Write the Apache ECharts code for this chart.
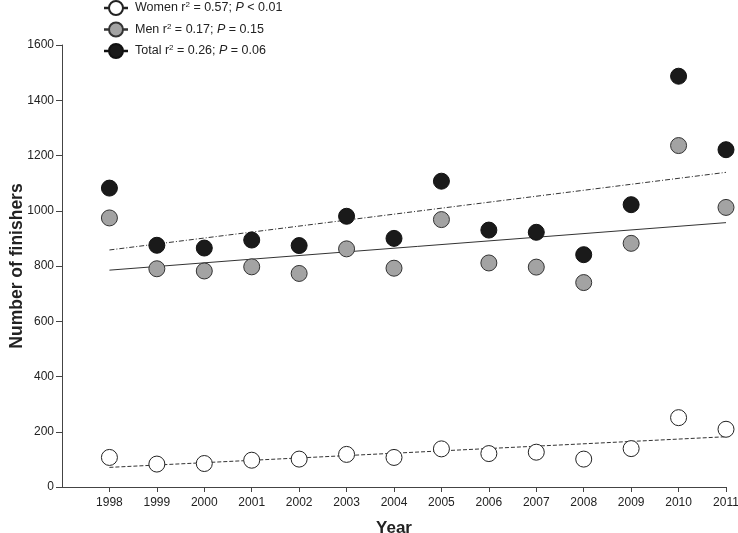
<!DOCTYPE html>
<html>
<head>
<meta charset="utf-8">
<script src="https://cdn.jsdelivr.net/npm/echarts@6/dist/echarts.min.js"></script>
<style>html,body{margin:0;padding:0;background:#fff}#c{width:738px;height:533px}</style>
</head>
<body>
<div id="c"></div>
<script>
const years = [1998,1999,2000,2001,2002,2003,2004,2005,2006,2007,2008,2009,2010,2011];
const women = [107,83,85,97,101,118,107,138,121,126,101,139,251,209];
const men   = [974,790,782,797,773,862,792,968,811,796,740,882,1236,1012];
const total = [1082,875,865,894,874,980,900,1107,930,922,841,1022,1487,1221];
const trendYears = [1998, 2011];
const womenTrend = [71, 182];
const menTrend   = [785, 957];
const totalTrend = [858, 1139];
const yTicks = [0,200,400,600,800,1000,1200,1400,1600];
const legendLabels = {
  'Women': 'Women r{sup|2} = 0.57; {i|P} < 0.01',
  'Men': 'Men r{sup|2} = 0.17; {i|P} = 0.15',
  'Total': 'Total r{sup|2} = 0.26; {i|P} = 0.06'
};

const pairs = (xs, ys) => xs.map((x, i) => [x, ys[i]]);
const FONT = 'Liberation Sans, Arial, sans-serif';
const legendIcon = 'path://M0,6.8H4V7.2H0Z M11,0A7,7 0 1 1 10.99,0Z M18,6.8H22V7.2H18Z';

const chart = echarts.init(document.getElementById('c'), null, {renderer: 'canvas'});
chart.setOption({
  animation: false,
  backgroundColor: '#fff',
  textStyle: {fontFamily: FONT},
  grid: {left: 62, right: 12, top: 45, bottom: 46, outerBoundsMode: 'none', containLabel: false},
  legend: {
    orient: 'vertical',
    left: 99,
    top: -5,
    itemWidth: 22,
    itemHeight: 15,
    itemGap: 5.5,
    data: [
      {name: 'Women', icon: legendIcon},
      {name: 'Men', icon: legendIcon},
      {name: 'Total', icon: legendIcon}
    ],
    formatter: n => legendLabels[n],
    textStyle: {
      fontFamily: FONT, fontSize: 12.5, color: '#222', padding: [0, 0, 0, 3], lineHeight: 14,
      rich: {
        sup: {fontSize: 8, verticalAlign: 'top', lineHeight: 14, padding: [0,0,5,0], fontFamily: FONT, color: '#222'},
        i: {fontStyle: 'italic', fontSize: 12.5, lineHeight: 14, fontFamily: FONT, color: '#222'}
      }
    }
  },
  xAxis: {
    type: 'value', min: 1997, max: 2011, interval: 1,
    name: 'Year', nameLocation: 'middle', nameGap: 33, nameMoveOverlap: false,
    nameTextStyle: {fontSize: 17, fontWeight: 'bold', color: '#222', fontFamily: FONT},
    splitLine: {show: false},
    axisLine: {lineStyle: {color: '#444', width: 1}},
    axisTick: {length: 5, lineStyle: {color: '#444'}, customValues: years},
    axisLabel: {customValues: years, fontSize: 12, color: '#222', margin: 10, formatter: v => String(v)}
  },
  yAxis: {
    type: 'value', min: 0, max: 1600, interval: 200,
    name: 'Number of finishers', nameLocation: 'middle', nameGap: 36, nameRotate: 90, nameMoveOverlap: false,
    nameTextStyle: {fontSize: 17.5, fontWeight: 'bold', color: '#222', fontFamily: FONT},
    splitLine: {show: false},
    axisLine: {show: true, lineStyle: {color: '#444', width: 1}},
    axisTick: {show: true, length: 6, lineStyle: {color: '#444'}, customValues: yTicks},
    axisLabel: {customValues: yTicks, fontSize: 12, color: '#222', margin: 8, formatter: v => String(v)}
  },
  series: [
    {
      name: 'Women trend', type: 'line', data: pairs(trendYears, womenTrend),
      symbol: 'none', lineStyle: {color: '#333', width: 1, type: [4, 2]}, z: 1, silent: true
    },
    {
      name: 'Men trend', type: 'line', data: pairs(trendYears, menTrend),
      symbol: 'none', lineStyle: {color: '#333', width: 1, type: 'solid'}, z: 1, silent: true
    },
    {
      name: 'Total trend', type: 'line', data: pairs(trendYears, totalTrend),
      symbol: 'none', lineStyle: {color: '#333', width: 1, type: [5, 2, 1, 2]}, z: 1, silent: true
    },
    {
      name: 'Women', type: 'scatter', data: pairs(years, women), symbolSize: 16, z: 3,
      itemStyle: {color: '#fff', borderColor: '#222', borderWidth: 1, opacity: 1}
    },
    {
      name: 'Men', type: 'scatter', data: pairs(years, men), symbolSize: 16, z: 3,
      itemStyle: {color: '#a3a3a3', borderColor: '#333', borderWidth: 1, opacity: 1}
    },
    {
      name: 'Total', type: 'scatter', data: pairs(years, total), symbolSize: 16, z: 3,
      itemStyle: {color: '#1a1a1a', borderColor: '#111', borderWidth: 1, opacity: 1}
    }
  ]
});
</script>
</body>
</html>
